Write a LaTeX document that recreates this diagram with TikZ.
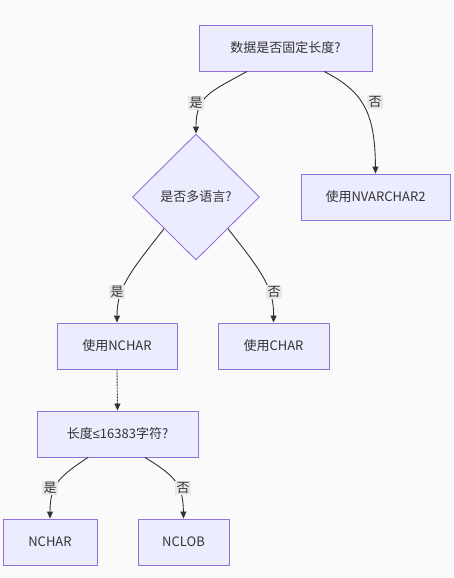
\documentclass[tikz,border=0pt]{standalone}
\usepackage{fontspec}
\setmainfont{Noto Sans CJK SC}
\newfontfamily\symfont{Liberation Sans}
\usetikzlibrary{shapes.geometric,arrows.meta}
\definecolor{nodefill}{HTML}{ECECFF}
\definecolor{nodeline}{HTML}{9370DB}
\definecolor{txt}{HTML}{333333}
\definecolor{bg}{HTML}{FAFAFA}
\definecolor{lblbg}{HTML}{E8E8E8}
\tikzset{
  box/.style={draw=nodeline, fill=nodefill, line width=0.9pt, text=txt,
    inner sep=0pt, font=\fontsize{13}{15}\selectfont},
  dia/.style={diamond, draw=nodeline, fill=nodefill, line width=0.9pt, text=txt,
    inner sep=0pt, minimum width=127pt, minimum height=126pt, font=\fontsize{13}{15}\selectfont},
  edge/.style={draw=txt, line width=0.9pt, -{Triangle[length=7pt,width=6pt]}},
  lbl/.style={fill=lblbg, text=txt, inner sep=1.5pt, font=\fontsize{13}{15}\selectfont}
}
\begin{document}
\begin{tikzpicture}[x=1pt,y=-1pt]
\fill[bg] (0,0) rectangle (454,578);
\useasboundingbox (0,0) rectangle (454,578);
\node[box, minimum width=173pt, minimum height=46pt] (top) at (285.5,48) {数据是否固定长度?};
\node[dia] (d) at (196,197) {是否多语言?};
\node[box, minimum width=149pt, minimum height=46pt] (nv) at (375.5,197) {使用NVARCHAR2};
\node[box, minimum width=120pt, minimum height=46pt] (nc) at (117,346) {使用NCHAR};
\node[box, minimum width=111pt, minimum height=46pt] (ch) at (273.5,346) {使用CHAR};
\node[box, minimum width=161pt, minimum height=46pt] (len) at (117.5,434) {长度{\symfont ≤}16383字符?};
\node[box, minimum width=94pt, minimum height=46pt] (n2) at (50,542) {NCHAR};
\node[box, minimum width=91pt, minimum height=46pt] (lob) at (183.5,542) {NCLOB};

\draw[edge] ([xshift=-38.5pt]top.south) .. controls (210,92) and (196,96) .. (d.north);
\draw[edge] ([xshift=38.5pt]top.south) .. controls (365,92) and (375,115) .. (nv.north);
\draw[edge] (d.south west) .. controls (130,272) and (117,288) .. (nc.north);
\draw[edge] (d.south east) .. controls (262,272) and (274,288) .. (ch.north);
\draw[edge, dash pattern=on 2pt off 1pt] (nc.south) -- (len.north);
\draw[edge] ([xshift=-29.5pt]len.south) .. controls (60,476) and (50,484) .. (n2.north);
\draw[edge] ([xshift=27.5pt]len.south) .. controls (175,476) and (183,484) .. (lob.north);

\node[lbl] (l1) at (196,103) {是};
\node[lbl] (l2) at (375,102) {否};
\node[lbl] (l3) at (117,292) {是};
\node[lbl] (l4) at (274,292) {否};
\node[lbl] (l5) at (50,488) {是};
\node[lbl] (l6) at (183,488) {否};
\end{tikzpicture}
\end{document}
